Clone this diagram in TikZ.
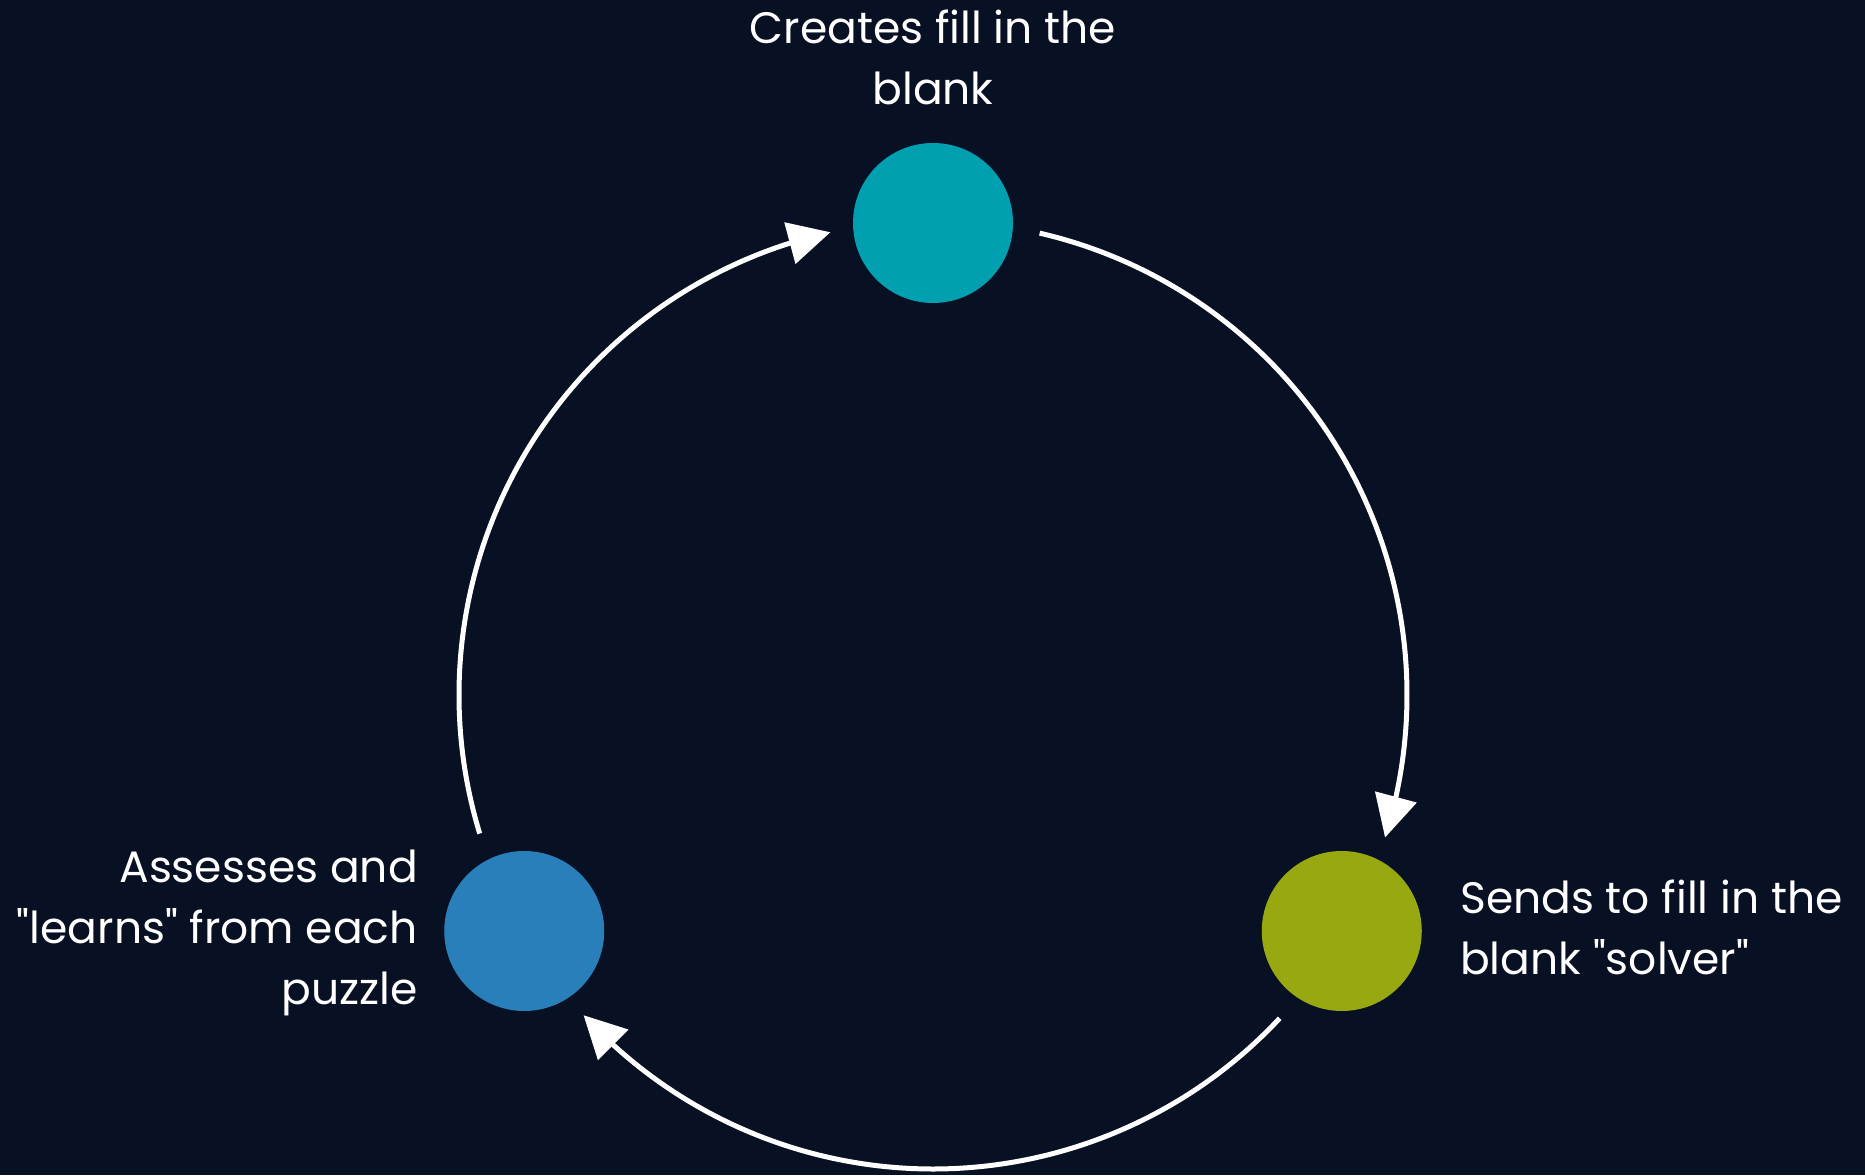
\documentclass[tikz,border=0pt]{standalone}
\usepackage{fontspec}
\setmainfont{Poppins}
\usetikzlibrary{arrows.meta,bending,calc}
\definecolor{bgc}{RGB}{8,16,36}
\definecolor{tealc}{RGB}{0,160,176}
\definecolor{olivec}{RGB}{151,168,16}
\definecolor{bluec}{RGB}{41,127,186}
\tikzset{
  dot/.style={circle, minimum size=160pt, inner sep=0pt, draw=none},
  flow/.style={draw=white, line width=5pt, -{Triangle[length=42pt,width=42pt,flex]}},
  lbl/.style={text=white, font=\fontsize{44}{61}\selectfont, inner sep=0pt}
}
\begin{document}
\begin{tikzpicture}[x=1pt,y=1pt]
\fill[bgc] (0,0) rectangle (1865,1175);
\useasboundingbox (0,0) rectangle (1865,1175);
\coordinate (C) at (933,480);
\node[dot, fill=tealc] (top) at ($(C)+(90:472)$) {};
\node[dot, fill=olivec] (br) at ($(C)+(-30:472)$) {};
\node[dot, fill=bluec] (bl) at ($(C)+(210:472)$) {};
\coordinate (s1) at ($(C)+(77:474)$);
\coordinate (s2) at ($(C)+(-43:474)$);
\coordinate (s3) at ($(C)+(197:474)$);
\draw[flow] (s1) arc[start angle=77, end angle=-17.5, radius=474];
\draw[flow] (s2) arc[start angle=-43, end angle=-137.5, radius=474];
\draw[flow] (s3) arc[start angle=197, end angle=102.5, radius=474];
\node[lbl, align=center, anchor=base] (tl) at (933,1070) {Creates fill in the\\blank};
\node[lbl, align=left, anchor=base west] (brl) at (1460,200) {Sends to fill in the\\blank \textquotedbl solver\textquotedbl};
\node[lbl, align=right, anchor=base east] (bll) at (418,170) {Assesses and\\\textquotedbl learns\textquotedbl{} from each\\puzzle};
\end{tikzpicture}
\end{document}
